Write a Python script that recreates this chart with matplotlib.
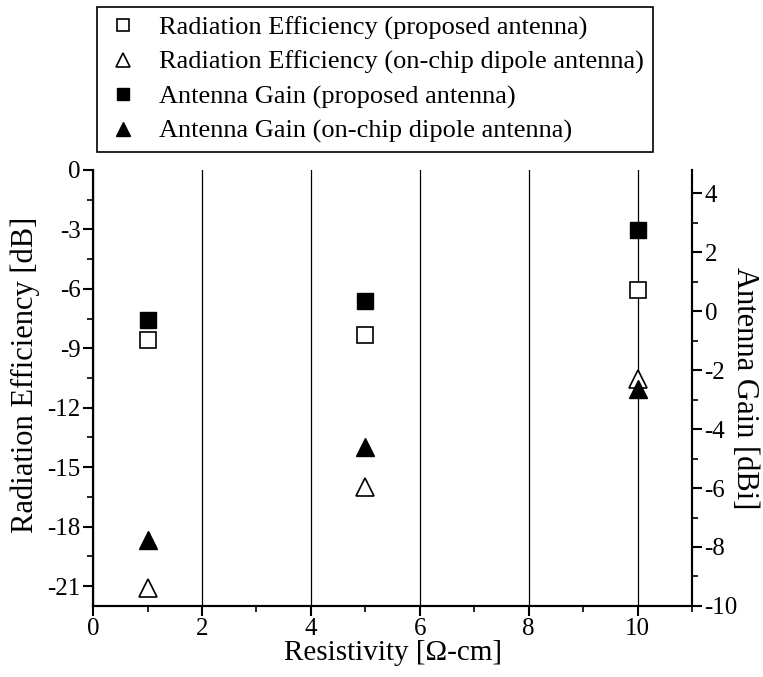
import matplotlib
matplotlib.use("Agg")
import matplotlib.pyplot as plt
from matplotlib.ticker import MultipleLocator

plt.rcParams['font.family'] = ['Liberation Serif', 'DejaVu Serif']
plt.rcParams['axes.unicode_minus'] = False

resistivity = [1, 5, 10]
eff_proposed = [-8.6, -8.35, -6.05]
eff_dipole = [-21.1, -16.0, -10.55]
gain_proposed = [-0.3, 0.35, 2.75]
gain_dipole = [-7.75, -4.6, -2.65]

fig = plt.figure(figsize=(7.63, 6.77), dpi=100)
ax = fig.add_axes([0.122, 0.105, 0.785, 0.644])
ax2 = ax.twinx()

h1, = ax.plot(resistivity, eff_proposed, 's', ms=11, mfc='white', mec='black', mew=1.2,
              linestyle='none', label='Radiation Efficiency (proposed antenna)', zorder=5)
h2, = ax.plot(resistivity, eff_dipole, '^', ms=13, mfc='white', mec='black', mew=1.2,
              linestyle='none', label='Radiation Efficiency (on-chip dipole antenna)', zorder=5)
h3, = ax2.plot(resistivity, gain_proposed, 's', ms=11, mfc='black', mec='black',
               linestyle='none', label='Antenna Gain (proposed antenna)', zorder=5)
h4, = ax2.plot(resistivity, gain_dipole, '^', ms=13, mfc='black', mec='black',
               linestyle='none', label='Antenna Gain (on-chip dipole antenna)', zorder=5)

ax.set_xlim(0, 11)
ax.set_ylim(-22, 0)
ax2.set_ylim(-10, 4.8)

ax.xaxis.set_major_locator(MultipleLocator(2))
ax.xaxis.set_minor_locator(MultipleLocator(1))
ax.yaxis.set_major_locator(MultipleLocator(3))
ax.yaxis.set_minor_locator(MultipleLocator(1.5))
ax2.yaxis.set_major_locator(MultipleLocator(2))
ax2.yaxis.set_minor_locator(MultipleLocator(1))

for a in (ax, ax2):
    a.spines['top'].set_visible(False)
    for s in a.spines.values():
        s.set_linewidth(1.5)
    a.tick_params(which='major', direction='out', length=7, width=1.5, labelsize=18, pad=2)
    a.tick_params(which='minor', direction='out', length=4, width=1.2)

ax.grid(axis='x', which='major', color='black', linewidth=0.9)
ax.set_axisbelow(True)

ax.set_xlabel('Resistivity [Ω-cm]', fontsize=21, va='center', ha='center')
ax.xaxis.set_label_coords(0.5, -0.108)
ax.set_ylabel('Radiation Efficiency [dB]', fontsize=22, va='center', ha='center')
ax.yaxis.set_label_coords(-0.113, 0.53)
ax2.set_ylabel('Antenna Gain [dBi]', fontsize=22, rotation=270, va='center', ha='center')
ax2.yaxis.set_label_coords(1.088, 0.5)

fig.legend(handles=[h1, h2, h3, h4], loc='upper left',
           bbox_to_anchor=(0.127, 0.99), borderaxespad=0, fontsize=19, frameon=True,
           fancybox=False, edgecolor='black', framealpha=1, markerscale=0.75,
           handletextpad=0.7, labelspacing=0.4, borderpad=0.35, handlelength=1.3)
fig.legends[0].get_frame().set_linewidth(1.2)

fig.savefig('out.png', dpi=100)
